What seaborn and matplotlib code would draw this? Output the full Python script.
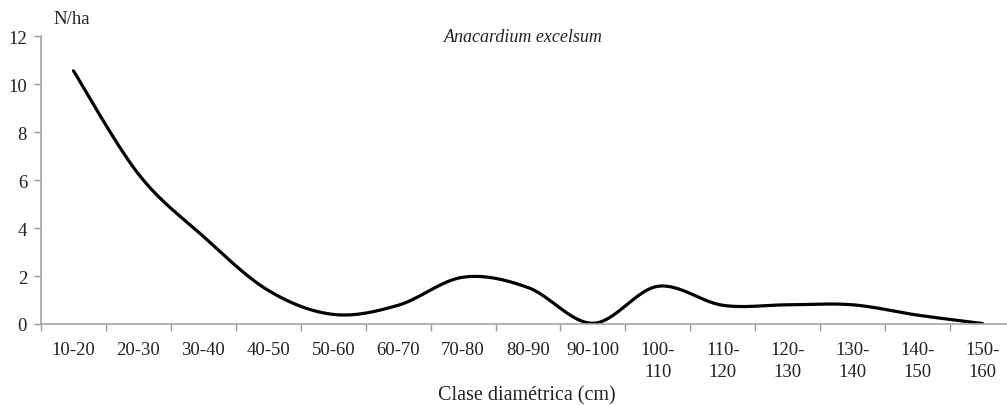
import numpy as np
import pandas as pd
import matplotlib
matplotlib.use("Agg")
import matplotlib.pyplot as plt
import seaborn as sns

categories = ["10-20", "20-30", "30-40", "40-50", "50-60", "60-70", "70-80",
              "80-90", "90-100", "100-110", "110-120", "120-130", "130-140",
              "140-150", "150-160"]
tick_labels = ["10-20", "20-30", "30-40", "40-50", "50-60", "60-70", "70-80",
               "80-90", "90-100", "100-\n110", "110-\n120", "120-\n130", "130-\n140",
               "140-\n150", "150-\n160"]
n_ha = [10.55, 6.25, 3.65, 1.4, 0.4, 0.78, 1.95, 1.52, 0.03, 1.57, 0.78, 0.8, 0.8, 0.37, 0.02]

sns.set_theme(style="white")
plt.rcParams['font.family'] = ['Liberation Serif', 'DejaVu Serif']

def smooth(xs, ys, n=30, tension=1/6):
    # Excel-like smoothed line: Bezier segments with Catmull-Rom control points
    xs = np.asarray(xs, float); ys = np.asarray(ys, float)
    px = np.concatenate([[xs[0]], xs, [xs[-1]]])
    py = np.concatenate([[ys[0]], ys, [ys[-1]]])
    ox, oy = [], []
    t = np.linspace(0, 1, n)
    for i in range(1, len(px) - 2):
        p0 = np.array([px[i], py[i]]); p3 = np.array([px[i+1], py[i+1]])
        c1 = p0 + (np.array([px[i+1], py[i+1]]) - np.array([px[i-1], py[i-1]])) * tension
        c2 = p3 - (np.array([px[i+2], py[i+2]]) - np.array([px[i], py[i]])) * tension
        b = ((1-t)**3)[:, None]*p0 + (3*(1-t)**2*t)[:, None]*c1 + (3*(1-t)*t**2)[:, None]*c2 + (t**3)[:, None]*p3
        ox.extend(b[:, 0]); oy.extend(b[:, 1])
    return np.array(ox), np.array(oy)

pos = np.arange(len(categories))
sx, sy = smooth(pos, n_ha)
curve = pd.DataFrame({"x": sx, "y": sy})

fig = plt.figure(figsize=(10.07, 4.06), dpi=100)
ax = fig.add_axes([41/1007, 81/406, 974/1007, 288/406])
sns.lineplot(data=curve, x="x", y="y", ax=ax, color="black", linewidth=2.3, sort=False)

ax.set_xlim(-0.5, len(categories) - 0.5)
ax.set_ylim(0, 12)
ax.set_yticks(np.arange(0, 13, 2))
ax.set_xticks(pos)
ax.set_xticklabels(tick_labels, fontsize=13.5, linespacing=1.4, va="top")
ax.set_xticks(np.arange(-0.5, len(categories), 1), minor=True)
ax.tick_params(axis="x", which="major", bottom=True, length=0, pad=12, colors="#222222")
ax.tick_params(axis="x", which="minor", bottom=True, length=5, width=1, color="#999999", direction="out")
ax.tick_params(axis="y", left=True, length=5, width=1, color="#999999", direction="out",
               labelsize=13.5, pad=5, labelcolor="#222222")
ax.set_xlabel("")
ax.set_ylabel("")
for s in ["top", "right"]:
    ax.spines[s].set_visible(False)
for s in ["left", "bottom"]:
    ax.spines[s].set_color("#a6a6a6")
    ax.spines[s].set_linewidth(1.2)

fig.text(53/1007, 1 - 19/406, "N/ha", fontsize=13.5, ha="left", va="center", color="#222222")
fig.text(523/1007, 1 - 37/406, "Anacardium excelsum", fontsize=13, style="italic",
         ha="center", va="center", color="#222222")
fig.text(527/1007, 1 - 396/406, "Clase diamétrica (cm)", fontsize=14.5, ha="center", va="center",
         color="#222222")

fig.savefig("out.png", dpi=100)
